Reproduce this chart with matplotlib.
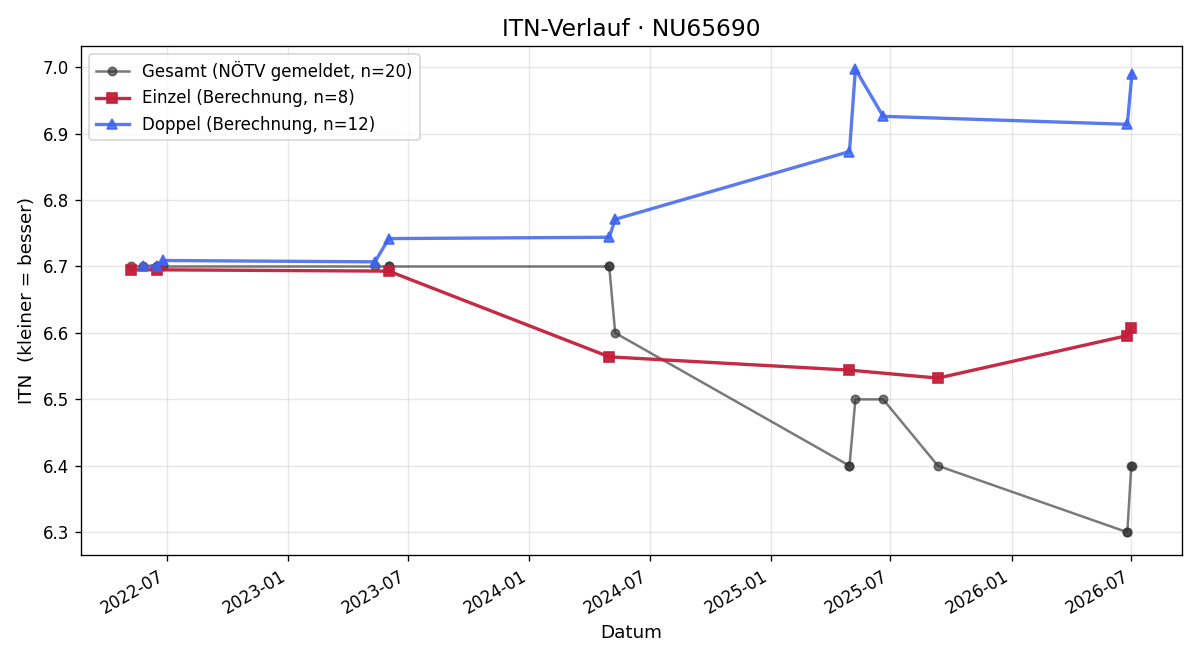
import pandas as pd
import matplotlib
matplotlib.use('Agg')
import matplotlib.pyplot as plt

# Gesamt (NÖTV gemeldet)
gesamtDaten = ['2022-05-07', '2022-05-26', '2022-06-16', '2022-06-16', '2022-06-25',
               '2023-05-12', '2023-06-02', '2023-06-02', '2024-05-01', '2024-05-01',
               '2024-05-10', '2025-04-30', '2025-04-30', '2025-05-09', '2025-06-20',
               '2025-09-11', '2026-06-25', '2026-06-25', '2026-07-01', '2026-07-02']
gesamtITN = [6.7, 6.7, 6.7, 6.7, 6.7,
             6.7, 6.7, 6.7, 6.7, 6.7,
             6.6, 6.4, 6.4, 6.5, 6.5,
             6.4, 6.3, 6.3, 6.4, 6.4]

# Einzel (Berechnung)
einzelDaten = ['2022-05-07', '2022-06-16', '2023-06-02', '2024-05-01',
               '2025-04-30', '2025-09-11', '2026-06-25', '2026-07-01']
einzelITN = [6.695, 6.695, 6.693, 6.564, 6.544, 6.532, 6.596, 6.608]

# Doppel (Berechnung)
doppelDaten = ['2022-05-26', '2022-06-16', '2022-06-25', '2023-05-12', '2023-06-02',
               '2024-05-01', '2024-05-10', '2025-04-30', '2025-05-09', '2025-06-20',
               '2026-06-25', '2026-07-02']
doppelITN = [6.700, 6.701, 6.709, 6.707, 6.742, 6.744, 6.771, 6.873, 6.997, 6.926, 6.914, 6.990]

fig, ax = plt.subplots(figsize=(10, 5.5), dpi=120)
ax.plot(pd.to_datetime(gesamtDaten), gesamtITN, marker='o', color='#333333', alpha=0.65,
        linewidth=1.5, markersize=5, label=f'Gesamt (NÖTV gemeldet, n={len(gesamtITN)})')
ax.plot(pd.to_datetime(einzelDaten), einzelITN, marker='s', color='#c41e3a', alpha=0.95,
        linewidth=2, markersize=6, label=f'Einzel (Berechnung, n={len(einzelITN)})')
ax.plot(pd.to_datetime(doppelDaten), doppelITN, marker='^', color='#3d63f0', alpha=0.85,
        linewidth=2, markersize=6, label=f'Doppel (Berechnung, n={len(doppelITN)})')

ax.set_title('ITN-Verlauf · NU65690', fontsize=14)
ax.set_xlabel('Datum', fontsize=11)
ax.set_ylabel('ITN  (kleiner = besser)', fontsize=11)
ax.grid(True, alpha=0.3)
ax.legend(loc='upper left')
fig.autofmt_xdate()
fig.tight_layout()
fig.savefig('out.png')
